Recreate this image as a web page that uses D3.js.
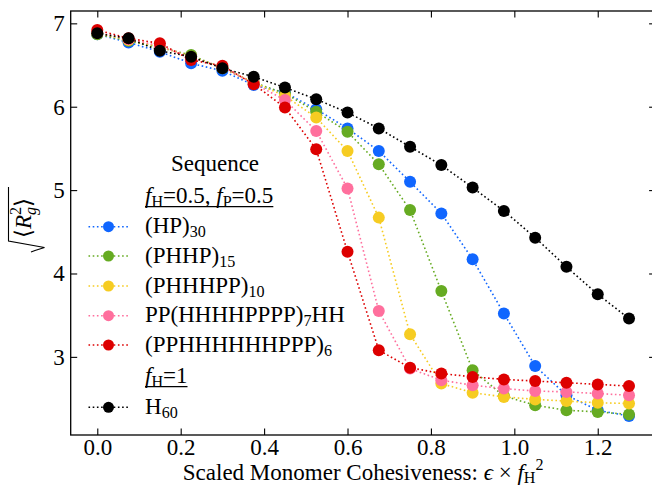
<!DOCTYPE html>
<html><head><meta charset="utf-8">
<script src="https://cdn.jsdelivr.net/npm/d3@7"></script>
<style>
html,body{margin:0;padding:0;background:#fff;}
svg, svg text{font-family:"Liberation Serif","DejaVu Serif","Noto Serif",serif;}
</style></head>
<body>
<svg id="chart" width="652" height="487"></svg>
<script>
// ---------- data ----------
const xValues = [0, 0.075, 0.15, 0.225, 0.3, 0.375, 0.45, 0.525, 0.6, 0.675, 0.75, 0.825, 0.9, 0.975, 1.05, 1.125, 1.2, 1.275];
const hp30      = [6.87, 6.77, 6.66, 6.52, 6.43, 6.26, 6.17, 5.97, 5.74, 5.47, 5.10, 4.72, 4.17, 3.52, 2.89, 2.54, 2.36, 2.29];
const phhp15    = [6.87, 6.79, 6.71, 6.62, 6.46, 6.29, 6.16, 5.94, 5.70, 5.31, 4.76, 3.79, 2.84, 2.53, 2.42, 2.36, 2.34, 2.31];
const phhhpp10  = [6.88, 6.80, 6.72, 6.60, 6.47, 6.29, 6.13, 5.87, 5.47, 4.67, 3.27, 2.68, 2.57, 2.52, 2.49, 2.47, 2.45, 2.44];
const pp7hh     = [6.89, 6.81, 6.73, 6.59, 6.47, 6.28, 6.08, 5.71, 5.02, 3.55, 2.86, 2.72, 2.66, 2.62, 2.59, 2.58, 2.56, 2.54];
const pph6      = [6.92, 6.82, 6.76, 6.56, 6.49, 6.27, 5.99, 5.49, 4.26, 3.08, 2.87, 2.80, 2.76, 2.73, 2.71, 2.69, 2.67, 2.65];
const h60       = [6.88, 6.82, 6.67, 6.60, 6.46, 6.36, 6.23, 6.09, 5.93, 5.74, 5.52, 5.30, 5.03, 4.75, 4.43, 4.08, 3.75, 3.46];
const xTicks = [0, 0.2, 0.4, 0.6, 0.8, 1.0, 1.2];
const yTicks = [3, 4, 5, 6, 7];

const series = [
  {pre:"(HP)", sub:"30", post:"", values:hp30, color:"#1066ff"},
  {pre:"(PHHP)", sub:"15", post:"", values:phhp15, color:"#66ab22"},
  {pre:"(PHHHPP)", sub:"10", post:"", values:phhhpp10, color:"#f6cc22"},
  {pre:"PP(HHHHPPPP)", sub:"7", post:"HH", values:pp7hh, color:"#ff6f9d"},
  {pre:"(PPHHHHHHPPP)", sub:"6", post:"", values:pph6, color:"#dd0000"},
  {pre:"H", sub:"60", post:"", values:h60, color:"#000000"}
];

// ---------- layout ----------
const svg = d3.select("#chart");
const FONT = '"Liberation Serif","DejaVu Serif","Noto Serif",serif';
const L = 70.7, R = 655.6, T = 11, B = 435;
const x = d3.scaleLinear().domain([-0.06375, 1.33875]).range([L, R]);
const y = d3.scaleLinear().domain([2.063, 7.148]).range([B, T]);

function buildXLabel(sel, fs){
  const ss = fs*0.7;
  sel.append("tspan").text("Scaled Monomer Cohesiveness: ");
  sel.append("tspan").attr("font-style","italic").text("ϵ");
  sel.append("tspan").text(" × ");
  sel.append("tspan").attr("font-style","italic").text("f");
  sel.append("tspan").attr("font-size",ss).attr("dy",fs*0.12).text("H");
  sel.append("tspan").attr("font-size",ss).attr("dy",-fs*0.55).text("2");
}
const probe = svg.append("text").attr("font-size",20).style("font-family",FONT);
buildXLabel(probe, 20);
const probeW = probe.node().getComputedTextLength();
probe.remove();
const FS = Math.max(16, Math.min(23, 20*378/probeW));
const SS = FS*0.7;

// series lines + points
const line = d3.line().x((d,i)=>x(xValues[i])).y(d=>y(d));
series.forEach(s=>{
  const g = svg.append("g");
  g.append("path").attr("d", line(s.values)).attr("fill","none")
    .attr("stroke", s.color).attr("stroke-width",1.6).attr("stroke-dasharray","1.6,2.6");
  g.selectAll("circle").data(s.values).enter().append("circle")
    .attr("cx",(d,i)=>x(xValues[i])).attr("cy",d=>y(d)).attr("r",6).attr("fill",s.color);
});

// axes (ticks inward on all four sides)
const tickLen = 6.5;
const ax = svg.append("g");
const axB = d3.axisBottom(x).tickValues(xTicks).tickSizeInner(-tickLen).tickSizeOuter(0).tickPadding(4).tickFormat(d3.format(".1f"));
const axT = d3.axisTop(x).tickValues(xTicks).tickSizeInner(-tickLen).tickSizeOuter(0).tickFormat("");
const axL = d3.axisLeft(y).tickValues(yTicks).tickSizeInner(-tickLen).tickSizeOuter(0).tickPadding(6).tickFormat(d3.format("d"));
const axR = d3.axisRight(y).tickValues(yTicks).tickSizeInner(-tickLen).tickSizeOuter(0).tickFormat("");
[[axB,`translate(0,${B})`],[axT,`translate(0,${T})`],[axL,`translate(${L},0)`],[axR,`translate(${R},0)`]].forEach(([a,tr])=>{
  const g = ax.append("g").attr("transform",tr).call(a);
  g.attr("font-family",null).attr("font-size",null);
});
ax.selectAll(".domain").remove();
ax.selectAll(".tick line").attr("stroke","#000").attr("stroke-width",1.1);
ax.selectAll(".tick text").style("font-family",FONT).attr("font-size",FS).attr("fill","#000");
svg.append("rect").attr("x",L).attr("y",T).attr("width",R-L).attr("height",B-T)
  .attr("fill","none").attr("stroke","#000").attr("stroke-width",1.3);

// x axis label
const xl = svg.append("text").attr("x",(L+R)/2).attr("y",480).attr("text-anchor","middle").attr("font-size",FS).style("font-family",FONT);
buildXLabel(xl, FS);

// y axis label: sqrt(<R_g^2>)
const yl = svg.append("g");
yl.append("path").attr("d","M31,252 L35,250.5 L44.5,247.5 L8.5,241 L8.5,187")
  .attr("fill","none").attr("stroke","#000").attr("stroke-width",1.1);
const ylt = yl.append("text").attr("transform","translate(31,238) rotate(-90)").attr("font-size",FS).style("font-family",FONT);
ylt.append("tspan").text("⟨");
ylt.append("tspan").attr("font-style","italic").text("R");
ylt.append("tspan").attr("font-size",SS).attr("dy",-FS*0.45).text("2");
ylt.append("tspan").attr("font-size",SS).attr("font-style","italic").attr("dx",-SS*0.5).attr("dy",FS*0.65).text("g");
ylt.append("tspan").attr("dy",-FS*0.2).text("⟩");

// ---------- legend ----------
const leg = svg.append("g").style("font-family",FONT);
const lx0 = 88.5, lx1 = 128.5, lmx = 108.5, ltx = 145;
leg.append("text").attr("x",215).attr("y",171).attr("text-anchor","middle").attr("font-size",FS).text("Sequence");
function header(g, yb, parts){
  const t = g.append("text").attr("x",ltx).attr("y",yb).attr("font-size",FS);
  parts(t);
  const w = t.node().getBBox().width;
  g.append("line").attr("x1",ltx).attr("x2",ltx+w).attr("y1",yb+3.6).attr("y2",yb+3.6).attr("stroke","#000").attr("stroke-width",1.2);
}
header(leg, 203, t=>{
  t.append("tspan").attr("font-style","italic").text("f");
  t.append("tspan").attr("font-size",SS).attr("dy",4).text("H");
  t.append("tspan").attr("dy",-4).text("=0.5, ");
  t.append("tspan").attr("font-style","italic").text("f");
  t.append("tspan").attr("font-size",SS).attr("dy",4).text("P");
  t.append("tspan").attr("dy",-4).text("=0.5");
});
header(leg, 383, t=>{
  t.append("tspan").attr("font-style","italic").text("f");
  t.append("tspan").attr("font-size",SS).attr("dy",4).text("H");
  t.append("tspan").attr("dy",-4).text("=1");
});
const legY = [226.7, 256, 286, 315.7, 345, 407.3];
series.forEach((s,i)=>{
  const yy = legY[i];
  leg.append("line").attr("x1",lx0).attr("x2",lx1).attr("y1",yy).attr("y2",yy)
    .attr("stroke",s.color).attr("stroke-width",1.6).attr("stroke-dasharray","1.6,2.6");
  leg.append("circle").attr("cx",lmx).attr("cy",yy).attr("r",5.5).attr("fill",s.color);
  const t = leg.append("text").attr("x",ltx).attr("y",yy+6.6).attr("font-size",FS);
  t.append("tspan").text(s.pre);
  t.append("tspan").attr("font-size",SS).attr("dy",4).text(s.sub);
  if (s.post) t.append("tspan").attr("dy",-4).text(s.post);
});
</script>
</body></html>
